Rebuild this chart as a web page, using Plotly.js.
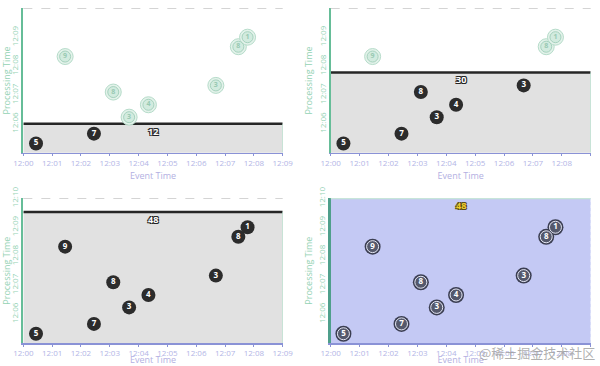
<!DOCTYPE html>
<html>
<head>
<meta charset="utf-8">
<script src="https://cdn.plot.ly/plotly-3.0.1.min.js"></script>
<style>html,body{margin:0;padding:0;background:#fff;}#chart{width:600px;height:366px;}</style>
</head>
<body>
<div id="chart"></div>
<script>
// ---- data (minutes after 12:00) ----
const eventTime = [0.44, 2.45, 3.67, 4.34, 3.12, 6.68, 1.45, 7.46, 7.78];
const procTime  = [5.32, 5.66, 6.23, 6.66, 7.10, 7.33, 8.33, 8.67, 9.00];
const values    = [5, 7, 3, 4, 8, 3, 9, 8, 1];
const watermarks = [6.0, 7.78, 9.53, 10.0];
const sums = [12, 30, 48, 48];
const xTickVals = [0,1,2,3,4,5,6,7,8,9];
const xTickLabels = ["12:00","12:01","12:02","12:03","12:04","12:05","12:06","12:07","12:08","12:09"];
const yTickVals = [6,7,8,9,10];
const yTickLabels = ["12:06","12:07","12:08","12:09","12:10"];
const xRange = [0, 9];
const yRange = [5, 10];
const watermarkText = "@稀土掘金技术社区";

const FONT = "Open Sans, Lato, sans-serif";
const domX = [[0.0389,0.4712],[0.5512,0.9845],[0.0389,0.4712],[0.5512,0.9845]];
const domY = [[0.5828,0.9773],[0.5828,0.9773],[0.0628,0.4582],[0.0628,0.4582]];

const traces = [];
const layout = {
  width: 600, height: 366,
  margin: {l:0, r:0, t:0, b:0},
  paper_bgcolor: "#fff", plot_bgcolor: "rgba(0,0,0,0)",
  showlegend: false,
  font: {family: FONT},
  shapes: [], annotations: []
};

for (let p = 0; p < 4; p++) {
  const sfx = p === 0 ? "" : String(p+1);
  const xa = "x" + sfx, ya = "y" + sfx;
  const wm = watermarks[p];
  const final = p === 3;

  layout["xaxis" + sfx] = {
    domain: domX[p], range: xRange, anchor: ya,
    tickvals: xTickVals, ticktext: xTickLabels,
    tickfont: {size: 8, color: "#b3b5e6", family: FONT},
    showgrid: false, zeroline: false,
    showline: true, linecolor: "#8a92d6", linewidth: 1.5,
    ticks: "outside", ticklen: 2, tickcolor: "#8a92d6",
    title: {text: "Event Time", font: {size: 9, color: "#b3b0e2", family: FONT}, standoff: 6},
    fixedrange: true
  };
  layout["yaxis" + sfx] = {
    domain: domY[p], range: yRange, anchor: xa,
    tickvals: yTickVals, ticktext: yTickLabels, tickangle: -90,
    tickfont: {size: 8, color: "#94d2b4", family: FONT},
    showgrid: false, zeroline: false,
    showline: true, linecolor: final ? "#4f9f8b" : "#66bd98", linewidth: final ? 3 : 2,
    ticks: "", 
    title: {text: "Processing Time", font: {size: 9, color: "#94d2b4", family: FONT}, standoff: 2},
    fixedrange: true
  };

  // top dashed line at 12:10
  layout.shapes.push({
    type: "line", xref: xa + " domain", yref: ya, x0: 0, x1: 1, y0: yRange[1], y1: yRange[1],
    line: {color: final ? "#bfe6cf" : "#b8b8b8", width: final ? 2 : 1, dash: final ? "solid" : "dash"},
    layer: "above"
  });

  // watermark fill
  traces.push({
    type: "scatter", mode: "lines", xaxis: xa, yaxis: ya,
    x: xRange, y: [wm, wm], fill: "tozeroy",
    fillcolor: final ? "#c4c9f4" : "#e1e1e1",
    line: {color: final ? "rgba(0,0,0,0)" : "#262626", width: 2.5},
    hoverinfo: "skip"
  });
  // right edge
  traces.push({
    type: "scatter", mode: "lines", xaxis: xa, yaxis: ya,
    x: [xRange[1], xRange[1]], y: [yRange[0], wm],
    line: {color: final ? "#d0d4f6" : "#a9d9c3", width: 1, dash: final ? "dot" : "solid"},
    hoverinfo: "skip"
  });

  // split points
  const done = {x: [], y: [], t: []}, ghost = {x: [], y: [], t: []};
  for (let i = 0; i < values.length; i++) {
    const tgt = procTime[i] < wm ? done : ghost;
    tgt.x.push(eventTime[i]); tgt.y.push(procTime[i]); tgt.t.push(String(values[i]));
  }

  if (ghost.x.length) {
    traces.push({type: "scatter", mode: "markers", xaxis: xa, yaxis: ya, x: ghost.x, y: ghost.y,
      marker: {symbol: "circle", size: 16, color: "#e3f2ea", line: {color: "#b6dcca", width: 1}}, hoverinfo: "skip"});
    traces.push({type: "scatter", mode: "markers+text", xaxis: xa, yaxis: ya, x: ghost.x, y: ghost.y,
      text: ghost.t, textposition: "middle center",
      textfont: {size: 7, color: "#98c9b2", family: FONT, weight: "bold"},
      marker: {symbol: "circle", size: 11, color: "#d2ebdf", line: {color: "#a6d2be", width: 1}}, hoverinfo: "skip"});
  }
  if (final) {
    traces.push({type: "scatter", mode: "markers", xaxis: xa, yaxis: ya, x: done.x, y: done.y,
      marker: {symbol: "circle", size: 16, color: "#3b3e52", line: {width: 0}}, hoverinfo: "skip"});
    traces.push({type: "scatter", mode: "markers+text", xaxis: xa, yaxis: ya, x: done.x, y: done.y,
      text: done.t, textposition: "middle center",
      textfont: {size: 8, color: "#ffffff", family: FONT, weight: "bold"},
      marker: {symbol: "circle", size: 12, color: "#55596c", line: {color: "#e6e8f6", width: 1}}, hoverinfo: "skip"});
  } else {
    traces.push({type: "scatter", mode: "markers+text", xaxis: xa, yaxis: ya, x: done.x, y: done.y,
      text: done.t, textposition: "middle center",
      textfont: {size: 8, color: "#ffffff", family: FONT, weight: "bold"},
      marker: {symbol: "circle", size: 14, color: "#2c2c2c", line: {width: 0}}, hoverinfo: "skip"});
  }

  // sum label
  layout.annotations.push({
    xref: xa, yref: ya, x: 4.5, y: Math.min(wm, yRange[1]) - 0.25,
    text: "<b>" + sums[p] + "</b>", showarrow: false,
    font: {size: 9, color: final ? "#f2cf2c" : "#ffffff", family: FONT,
      shadow: final ? "1px 1px 0 #5a4a10, -1px -1px 0 #5a4a10, 1px -1px 0 #5a4a10, -1px 1px 0 #5a4a10"
                    : "1px 1px 0 #222, -1px -1px 0 #222, 1px -1px 0 #222, -1px 1px 0 #222"}
  });
}

layout.annotations.push({
  xref: "paper", yref: "paper", x: 0.995, y: 0.005, xanchor: "right", yanchor: "bottom",
  text: watermarkText, showarrow: false,
  font: {size: 13, color: "rgba(150,150,150,0.75)", family: "Noto Sans CJK SC, sans-serif"}
});

Plotly.newPlot("chart", traces, layout, {staticPlot: true, displayModeBar: false});
</script>
</body>
</html>
